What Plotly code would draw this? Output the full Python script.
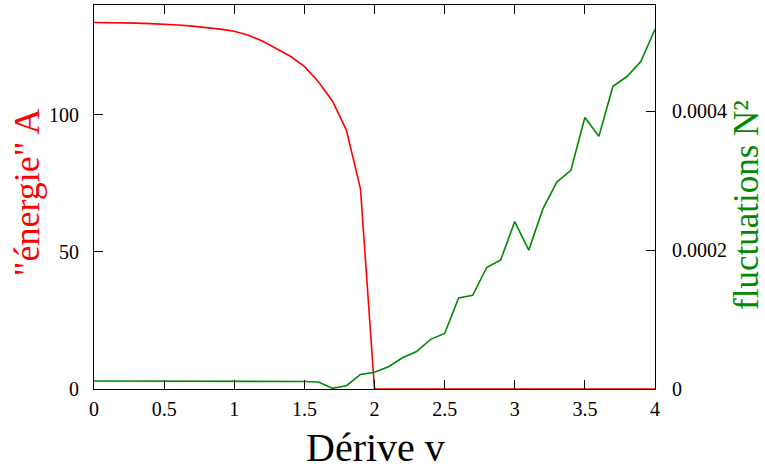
import plotly.graph_objects as go

v = [round(0.1 * i, 1) for i in range(41)]

energie_A = [133.6, 133.6, 133.5, 133.4, 133.2, 133.0, 132.7, 132.3, 131.8, 131.2,
             130.4, 129.0, 126.9, 124.2, 121.3, 117.6, 112.0, 105.0, 94.3, 73.0,
             0, 0, 0, 0, 0, 0, 0, 0, 0, 0,
             0, 0, 0, 0, 0, 0, 0, 0, 0, 0, 0]

fluct_N2 = [1.15e-5, 1.15e-5, 1.15e-5, 1.15e-5, 1.15e-5, 1.15e-5, 1.12e-5, 1.12e-5, 1.12e-5, 1.12e-5,
            1.12e-5, 1.12e-5, 1.12e-5, 1.1e-5, 1.1e-5, 1.08e-5, 1.0e-5, 1.0e-6, 4.7e-6, 2.1e-5,
            2.4e-5, 3.2e-5, 4.5e-5, 5.4e-5, 7.15e-5, 8.0e-5, 1.31e-4, 1.35e-4, 1.75e-4, 1.86e-4,
            2.41e-4, 2.0e-4, 2.59e-4, 2.98e-4, 3.15e-4, 3.91e-4, 3.64e-4, 4.36e-4, 4.5e-4, 4.72e-4,
            5.18e-4]

x_ticks = [0, 0.5, 1, 1.5, 2, 2.5, 3, 3.5, 4]
x_tick_labels = ["0", "0.5", "1", "1.5", "2", "2.5", "3", "3.5", "4"]
y_ticks = [0, 50, 100]
y2_ticks = [0, 0.0002, 0.0004]
y2_tick_labels = ["0", "0.0002", "0.0004"]

FONT = "Liberation Serif"
TICKFONT = dict(family=FONT, size=20, color="black")

fig = go.Figure()
fig.add_trace(go.Scatter(x=v, y=energie_A, mode="lines",
                         line=dict(color="#ff0000", width=1.6), yaxis="y"))
fig.add_trace(go.Scatter(x=v, y=fluct_N2, mode="lines",
                         line=dict(color="#008a00", width=1.6), yaxis="y2"))

fig.update_layout(
    width=765, height=470,
    margin=dict(l=94, r=110, t=5, b=81),
    paper_bgcolor="white", plot_bgcolor="white",
    showlegend=False,
    font=dict(family=FONT, size=20, color="black"),
    xaxis=dict(range=[0, 4], tickvals=x_ticks, ticktext=x_tick_labels, tickfont=TICKFONT,
               ticks="inside", ticklen=9, tickcolor="black", tickwidth=1,
               showline=True, linecolor="black", linewidth=1, mirror="ticks",
               showgrid=False, zeroline=False, ticklabelstandoff=2),
    yaxis=dict(range=[0, 140], tickvals=y_ticks, tickfont=TICKFONT,
               ticks="inside", ticklen=9, tickcolor="black", tickwidth=1,
               showline=True, linecolor="black", linewidth=1,
               showgrid=False, zeroline=False, ticklabelstandoff=10),
    yaxis2=dict(range=[0, 0.000553], tickvals=y2_ticks, ticktext=y2_tick_labels, tickfont=TICKFONT,
                overlaying="y", side="right", anchor="x",
                ticks="inside", ticklen=9, tickcolor="black", tickwidth=1,
                showline=True, linecolor="black", linewidth=1,
                showgrid=False, zeroline=False, ticklabelstandoff=12),
    annotations=[
        dict(text="Dérive v", xref="paper", yref="paper", x=0.501, y=-0.152,
             xanchor="center", yanchor="middle", showarrow=False,
             font=dict(family=FONT, size=40, color="black")),
        dict(text="\"énergie\" A", xref="paper", yref="paper", x=-0.119, y=0.513,
             xanchor="center", yanchor="middle", showarrow=False, textangle=-90,
             font=dict(family=FONT, size=36, color="#ff0000")),
        dict(text="fluctuations N²", xref="paper", yref="paper", x=1.162, y=0.479,
             xanchor="center", yanchor="middle", showarrow=False, textangle=-90,
             font=dict(family=FONT, size=35, color="#008a00")),
    ],
)

fig.write_html("out.html")
